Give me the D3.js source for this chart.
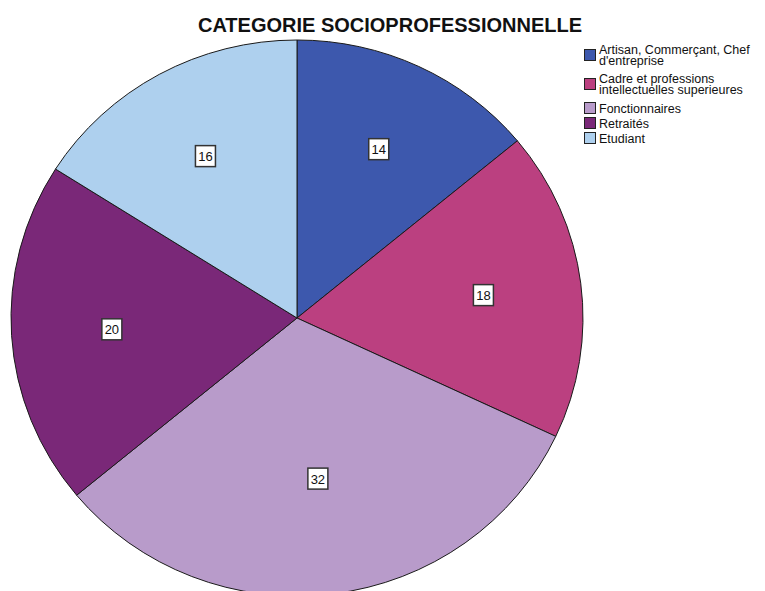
<!DOCTYPE html>
<html>
<head>
<meta charset="utf-8">
<script src="https://cdn.jsdelivr.net/npm/d3@7"></script>
<style>
  html, body { margin: 0; padding: 0; background: #fff; }
  svg { display: block; font-family: "Liberation Sans", Arial, sans-serif; }
</style>
</head>
<body>
<svg id="chart" width="765" height="591"></svg>
<script>
// Répartition par catégorie socioprofessionnelle
const categories = [
  ["Artisan, Commerçant, Chef", "d'entreprise"],
  ["Cadre et professions", "intellectuelles superieures"],
  ["Fonctionnaires"],
  ["Retraités"],
  ["Etudiant"]
];
const values = [14, 18, 32, 20, 16];
const colors = ["#3d58ad", "#bb4080", "#b89bca", "#7a2878", "#aed0ee"];

const svg = d3.select("#chart");

// Title
svg.append("text")
  .attr("x", 390).attr("y", 32)
  .attr("text-anchor", "middle")
  .attr("font-weight", "bold")
  .attr("font-size", 20)
  .attr("fill", "#111")
  .text("CATEGORIE SOCIOPROFESSIONNELLE");

// Pie (slightly elliptical, drawn as a circle scaled vertically)
const cx = 297, cy = 318, rx = 286, ry = 278;
const sy = ry / rx;

const pie = d3.pie().sort(null).value(d => d.v);
const data = values.map((v, i) => ({ v, i }));
const arcs = pie(data);
const arc = d3.arc().innerRadius(0).outerRadius(rx);

const g = svg.append("g")
  .attr("transform", `translate(${cx},${cy}) scale(1,${sy})`);

g.selectAll("path")
  .data(arcs)
  .join("path")
  .attr("d", arc)
  .attr("fill", d => colors[d.data.i])
  .attr("stroke", "#1a1a1a")
  .attr("stroke-width", 1)
  .attr("vector-effect", "non-scaling-stroke");

// Value labels placed a little beyond each sector's area centroid
const lbl = svg.append("g").attr("transform", `translate(${cx},${cy})`);
arcs.forEach(d => {
  const half = (d.endAngle - d.startAngle) / 2;
  const mid = d.startAngle + half;
  const k = 1.04 * 2 * Math.sin(half) / (3 * half);
  const x = rx * k * Math.sin(mid);
  const y = -ry * k * Math.cos(mid);
  const bw = 20, bh = 21;
  lbl.append("rect")
    .attr("x", x - bw / 2).attr("y", y - bh / 2)
    .attr("width", bw).attr("height", bh)
    .attr("fill", "#fff")
    .attr("stroke", "#333")
    .attr("stroke-width", 1.5);
  lbl.append("text")
    .attr("x", x).attr("y", y + 5)
    .attr("text-anchor", "middle")
    .attr("font-size", 13)
    .attr("fill", "#111")
    .text(d.data.v);
});

// Legend
const legend = svg.append("g").attr("transform", "translate(584,0)");
const itemTops = [49, 78, 102, 117, 132];
categories.forEach((lines, i) => {
  const top = itemTops[i];
  const item = legend.append("g");
  item.append("rect")
    .attr("x", 0.5).attr("y", top + 0.5)
    .attr("width", 11).attr("height", 11)
    .attr("fill", colors[i])
    .attr("stroke", "#222")
    .attr("stroke-width", 1);
  const firstBaseline = lines.length > 1 ? top + 4.5 : top + 10.5;
  lines.forEach((t, j) => {
    item.append("text")
      .attr("x", 15).attr("y", firstBaseline + j * 11.5)
      .attr("font-size", 12.5)
      .attr("fill", "#111")
      .text(t);
  });
});
</script>
</body>
</html>
